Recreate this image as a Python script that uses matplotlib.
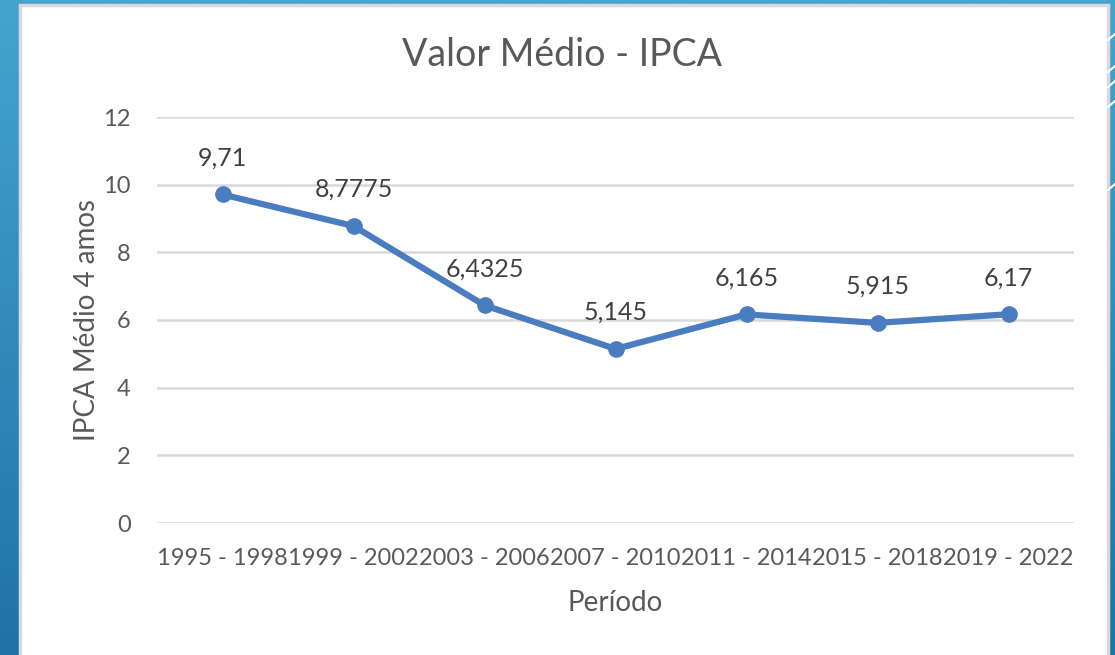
import matplotlib
matplotlib.use("Agg")
import matplotlib.pyplot as plt
from matplotlib.patches import Rectangle
from matplotlib.colors import LinearSegmentedColormap
import numpy as np

periods = ["1995 - 1998", "1999 - 2002", "2003 - 2006", "2007 - 2010",
           "2011 - 2014", "2015 - 2018", "2019 - 2022"]
ipca = [9.71, 8.7775, 6.4325, 5.145, 6.165, 5.915, 6.17]
labels = ["9,71", "8,7775", "6,4325", "5,145", "6,165", "5,915", "6,17"]
yticks = [0, 2, 4, 6, 8, 10, 12]

plt.rcParams['font.family'] = ['Lato', 'DejaVu Sans']
W, H = 1115, 655
fig = plt.figure(figsize=(W / 100, H / 100), dpi=100)

# blue gradient background
bg = fig.add_axes([0, 0, 1, 1], zorder=-10)
grad = np.linspace(0, 1, 256).reshape(-1, 1)
cmap = LinearSegmentedColormap.from_list("bg", ["#46A4CE", "#1F72A8"])
bg.imshow(grad, aspect='auto', cmap=cmap, extent=[0, 1, 0, 1], origin='upper')
bg.set_xlim(0, 1); bg.set_ylim(0, 1)
bg.axis('off')
# decorative white strokes on the right edge
for ypix in [40, 72, 87, 107, 190]:
    y0 = 1 - ypix / H
    bg.plot([1108 / W, 1115 / W], [y0, y0 + 6 / H], color='white', lw=1.5)
# white chart panel with light border
bg.add_patch(Rectangle((20 / W, -0.01), 1088 / W, (H - 5) / H + 0.01,
                       facecolor='white', edgecolor='#D9D9D9', lw=2.5,
                       transform=bg.transAxes))

ax = fig.add_axes([157 / W, 132 / H, (1074 - 157) / W, (523 - 117) / H])
x = np.arange(len(periods))
ax.plot(x, ipca, color='#4A7DC0', lw=4.5, marker='o', markersize=11,
        solid_capstyle='round', solid_joinstyle='round', zorder=3)
for xi, yi, lab in zip(x, ipca, labels):
    ax.annotate(lab, (xi, yi), xytext=(0, 18), textcoords='offset points',
                ha='center', va='bottom', fontsize=18, color='#404040')

ax.set_xlim(-0.5, len(periods) - 0.5)
ax.set_ylim(0, 12)
ax.set_yticks(yticks)
ax.set_yticklabels([str(v) for v in yticks])
ax.set_xticks(x)
ax.set_xticklabels(periods)
ax.grid(axis='y', color='#D9D9D9', lw=1.8)
ax.set_axisbelow(True)
for s in ax.spines.values():
    s.set_visible(False)
ax.tick_params(axis='both', length=0, labelcolor='#595959')
ax.tick_params(axis='y', labelsize=17, pad=19)
ax.tick_params(axis='x', labelsize=17, pad=18)
ax.set_ylabel("IPCA Médio 4 amos", fontsize=20, color='#595959', labelpad=2)
ax.set_xlabel("Período", fontsize=20, color='#595959', labelpad=15)
ax.set_facecolor('none')
fig.text(562 / W, 1 - 55 / H, "Valor Médio - IPCA", ha='center', va='center',
         fontsize=27, color='#595959')

fig.savefig("out.png", dpi=100)
